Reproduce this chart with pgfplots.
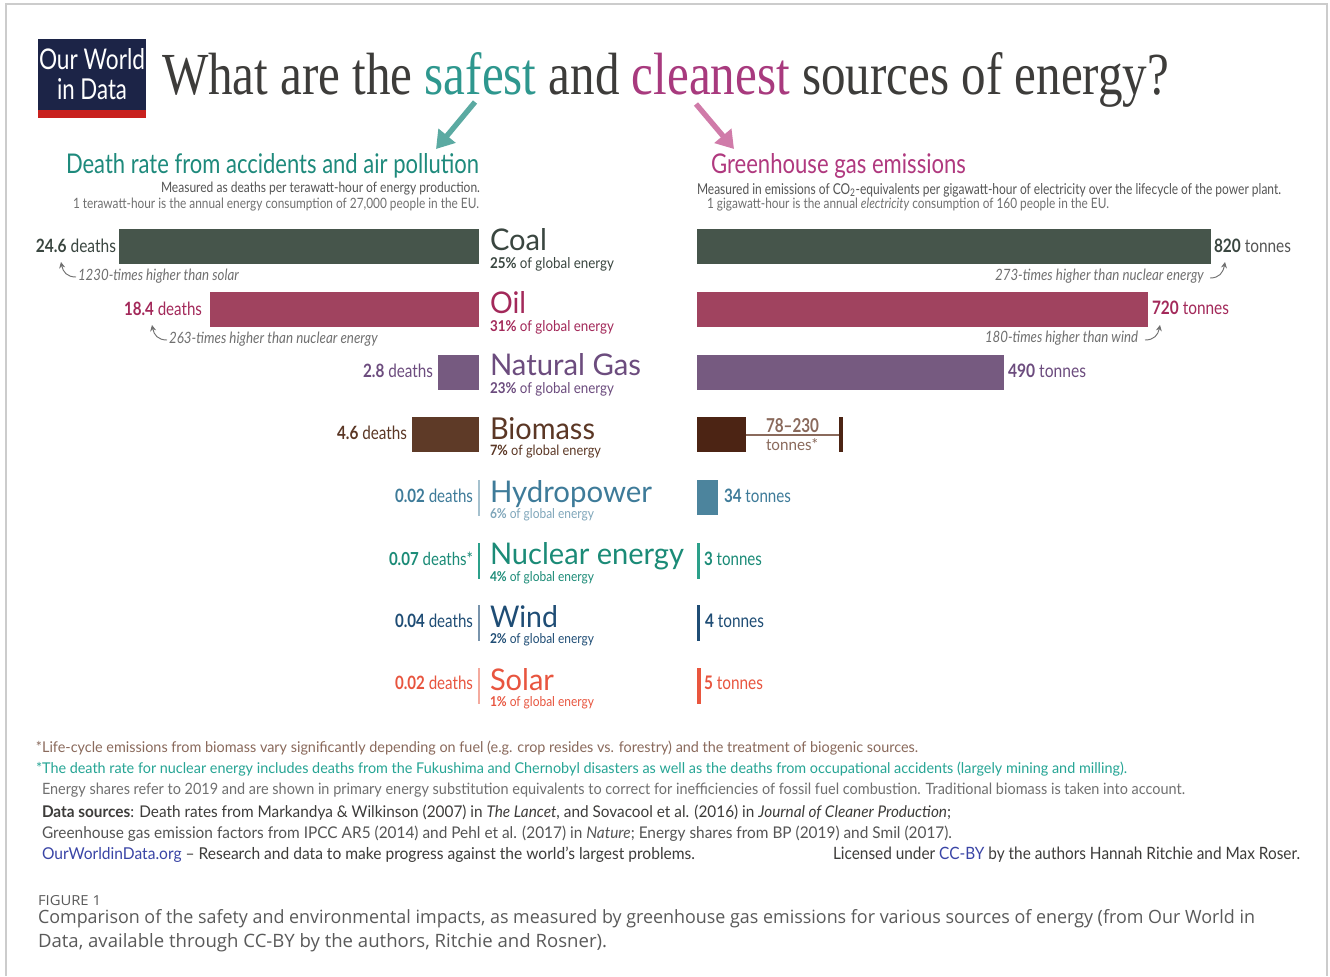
\documentclass[border=0pt]{standalone}
\usepackage{pgfplots}
\pgfplotsset{compat=1.18}
\usetikzlibrary{arrows.meta}
\usepackage{graphicx}
\usepackage{fontspec}
\setmainfont{Lato}
\newfontfamily\serif{Liberation Serif}
\newfontfamily\osans{Open Sans}
\newdimen\pxu \pxu=0.75pt
\newcommand\fit[3]{\resizebox{#1\pxu}{#2\pxu}{#3}}
\newcommand\T[5]{\node[anchor=base west,inner sep=0pt,outer sep=0pt] at (#1,#2) {\fit{#3}{#4}{#5}};}
\definecolor{ttl}{HTML}{3D3C3A}
\definecolor{safe}{HTML}{2E978E}
\definecolor{clean}{HTML}{A83A7E}
\definecolor{hdrL}{HTML}{1E8A7C}
\definecolor{hdrR}{HTML}{B0397F}
\definecolor{arrL}{HTML}{5BAAA2}
\definecolor{arrR}{HTML}{D07BA9}
\definecolor{navy}{HTML}{1C2447}
\definecolor{owred}{HTML}{C8211E}
\definecolor{coalb}{HTML}{46554B}
\definecolor{coalt}{HTML}{3A4640}
\definecolor{oilb}{HTML}{A0435F}
\definecolor{oilt}{HTML}{A3295A}
\definecolor{gasb}{HTML}{765A80}
\definecolor{gast}{HTML}{6C4C7E}
\definecolor{biob}{HTML}{5E3A27}
\definecolor{bior}{HTML}{4C2414}
\definecolor{biot}{HTML}{5B3725}
\definecolor{bioe}{HTML}{8A6A5C}
\definecolor{hydb}{HTML}{4C849D}
\definecolor{hydt}{HTML}{3E7B99}
\definecolor{hyds}{HTML}{7FA6BA}
\definecolor{nucb}{HTML}{2CA08A}
\definecolor{nuct}{HTML}{1B8B77}
\definecolor{nucf}{HTML}{26A595}
\definecolor{windb}{HTML}{1F4D75}
\definecolor{windt}{HTML}{1F4D75}
\definecolor{solb}{HTML}{E9563E}
\definecolor{solt}{HTML}{E8553F}
\definecolor{gry}{HTML}{555555}
\definecolor{lgry}{HTML}{707070}
\definecolor{capg}{HTML}{5A5A5A}
\definecolor{owid}{HTML}{3A45A6}
\definecolor{frame}{HTML}{CCCCCC}
\begin{document}
\begin{tikzpicture}
\useasboundingbox (0pt,0pt) rectangle (997.5pt,-732pt);
\fill[white] (0pt,0pt) rectangle (997.5pt,-732pt);
\begin{scope}[x=0.75pt,y=-0.75pt]
% frame
\draw[frame,line width=0.9pt] (6,976) -- (6,4) -- (1327,4) -- (1327,976);
% logo
\fill[navy] (38,39) rectangle (146,118);
\fill[owred] (38,110) rectangle (146,118);
\T{39}{69}{106}{21}{\color{white}Our World}
\T{57}{99}{70}{21}{\color{white}in Data}
% title
\T{162}{94}{1007}{42}{\serif\color{ttl}What are the \textcolor{safe}{safest} and \textcolor{clean}{cleanest} sources of energy?}
% arrows
\draw[arrL,line width=4pt,-{Triangle[length=13pt,width=16pt]}] (475,102) -- (436,149);
\draw[arrR,line width=4pt,-{Triangle[length=13pt,width=16pt]}] (696,104) -- (734,149);
% headers
\T{66}{173}{413}{20}{\color{hdrL}Death rate from accidents and air pollution}
\T{161}{192}{319}{10.5}{\color{gry}Measured as deaths per terawatt-hour of energy production.}
\T{73}{208}{406}{10.5}{\color{lgry}1 terawatt-hour is the annual energy consumption of 27,000 people in the EU.}
\T{711}{173}{255}{20}{\color{hdrR}Greenhouse gas emissions}
\T{697}{194}{584}{11}{\color{gry}Measured in emissions of CO\textsubscript{2}-equivalents per gigawatt-hour of electricity over the lifecycle of the power plant.}
\T{707}{208}{402}{10.5}{\color{lgry}1 gigawatt-hour is the annual \textit{electricity} consumption of 160 people in the EU.}
% category labels
\T{490}{250}{57}{22}{\color{coalt}Coal}
\T{490}{268}{124}{11}{\color{coalt}\textbf{25\%} of global energy}
\T{490}{313}{36}{22}{\color{oilt}Oil}
\T{490}{331}{124}{11}{\color{oilt}\textbf{31\%} of global energy}
\T{490}{375}{151}{22}{\color{gast}Natural Gas}
\T{490}{393}{124}{11}{\color{gast}\textbf{23\%} of global energy}
\T{490}{439}{105}{22}{\color{biot}Biomass}
\T{490}{455}{111}{10.5}{\color{biot}\textbf{7\%} of global energy}
\T{490}{502}{162}{22}{\color{hydt}Hydropower}
\T{490}{518}{104}{10}{\color{hyds}\textbf{6\%} of global energy}
\T{490}{564}{194}{22}{\color{nuct}Nuclear energy}
\T{490}{581}{104}{10}{\color{nuct}\textbf{4\%} of global energy}
\T{490}{627}{68}{22}{\color{windt}Wind}
\T{490}{643}{104}{10}{\color{windt}\textbf{2\%} of global energy}
\T{490}{690}{64}{22}{\color{solt}Solar}
\T{490}{706}{104}{10}{\color{solt}\textbf{1\%} of global energy}
% left value labels
\T{36}{252}{80}{13.5}{\color{coalt}\textbf{24.6} deaths}
\T{124}{315}{78}{13.5}{\color{oilt}\textbf{18.4} deaths}
\T{363}{377}{70}{13.5}{\color{gast}\textbf{2.8} deaths}
\T{337}{439}{70}{13.5}{\color{biot}\textbf{4.6} deaths}
\T{395}{502}{78}{13.5}{\color{hydt}\textbf{0.02} deaths}
\T{389}{565}{84}{13.5}{\color{nuct}\textbf{0.07} deaths*}
\T{395}{627}{78}{13.5}{\color{windt}\textbf{0.04} deaths}
\T{395}{689}{78}{13.5}{\color{solt}\textbf{0.02} deaths}
% right value labels
\T{1214}{252}{77}{13.5}{\color{coalt}\textbf{820} \color{gry}tonnes}
\T{1152}{314}{77}{13.5}{\color{oilt}\textbf{720} tonnes}
\T{1008}{377}{78}{13.5}{\color{gast}\textbf{490} tonnes}
\T{724}{502}{67}{13.5}{\color{hydt}\textbf{34} tonnes}
\T{704}{565}{58}{13.5}{\color{nuct}\textbf{3} tonnes}
\T{705}{627}{59}{13.5}{\color{windt}\textbf{4} tonnes}
\T{704}{689}{59}{13.5}{\color{solt}\textbf{5} tonnes}
\T{766}{432}{53}{14}{\color{bioe}\textbf{78--230}}
\T{766}{450}{52}{12}{\color{bioe}tonnes*}
% comparison notes
\T{78}{280}{161}{11.5}{\color{lgry}\textit{1230-times higher than solar}}
\T{169}{343}{209}{11.5}{\color{lgry}\textit{263-times higher than nuclear energy}}
\T{995}{280}{209}{11.5}{\color{lgry}\textit{273-times higher than nuclear energy}}
\T{985}{342}{153}{11.5}{\color{lgry}\textit{180-times higher than wind}}
\draw[lgry,line width=0.7pt,-{Stealth[length=4.5pt,width=4.5pt]}] (76,277) .. controls (67,277) and (63,272) .. (61,262);
\draw[lgry,line width=0.7pt,-{Stealth[length=4.5pt,width=4.5pt]}] (167,340) .. controls (158,340) and (154,335) .. (152,325);
\draw[lgry,line width=0.7pt,-{Stealth[length=4.5pt,width=4.5pt]}] (1210,278) .. controls (1219,278) and (1223,273) .. (1225,262);
\draw[lgry,line width=0.7pt,-{Stealth[length=4.5pt,width=4.5pt]}] (1145,340) .. controls (1154,340) and (1158,335) .. (1160,325);
% footer
\T{36}{752}{882}{11.5}{\color{bioe}*Life-cycle emissions from biomass vary significantly depending on fuel (e.g. crop resides vs. forestry) and the treatment of biogenic sources.}
\T{36}{773}{1091}{11.5}{\color{nucf}*The death rate for nuclear energy includes deaths from the Fukushima and Chernobyl disasters as well as the deaths from occupational accidents (largely mining and milling).}
\T{42}{794}{1143}{11.5}{\color{lgry}Energy shares refer to 2019 and are shown in primary energy substitution equivalents to correct for inefficiencies of fossil fuel combustion. Traditional biomass is taken into account.}
\T{42}{817}{909}{12.5}{\color{ttl}\textbf{Data sources}: Death rates from Markandya \& Wilkinson (2007) in \textit{The Lancet}, and Sovacool et al. (2016) in \textit{Journal of Cleaner Production};}
\T{42}{838}{910}{12.5}{\color{gry}Greenhouse gas emission factors from IPCC AR5 (2014) and Pehl et al. (2017) in \textit{Nature}; Energy shares from BP (2019) and Smil (2017).}
\T{42}{859}{653}{12.5}{\color{ttl}\textcolor{owid}{OurWorldinData.org} -- Research and data to make progress against the world's largest problems.}
\T{833}{859}{467}{12.5}{\color{ttl}Licensed under \textcolor{owid}{CC-BY} by the authors Hannah Ritchie and Max Roser.}
% caption
\T{38}{905}{63}{10}{\osans\color{capg}FIGURE 1}
\T{38}{923}{1217}{14}{\osans\color{capg}Comparison of the safety and environmental impacts, as measured by greenhouse gas emissions for various sources of energy (from Our World in}
\T{38}{947}{569}{14}{\osans\color{capg}Data, available through CC-BY by the authors, Ritchie and Rosner).}
\end{scope}
% ---------------- left axis: deaths per TWh
\begin{axis}[at={(89.25pt,-161.325pt)}, anchor=north west, scale only axis,
  width=270pt, height=376.8pt, xmin=0, xmax=24.6, ymin=-0.5, ymax=7.5,
  x dir=reverse, y dir=reverse, hide axis, clip=false]
\addplot[xbar, bar shift=0pt, bar width=26.25pt, fill=coalb, draw=none] coordinates {(24.6,0)};
\addplot[xbar, bar shift=0pt, bar width=26.25pt, fill=oilb, draw=none] coordinates {(18.4,1)};
\addplot[xbar, bar shift=0pt, bar width=26.25pt, fill=gasb, draw=none] coordinates {(2.8,2)};
\addplot[xbar, bar shift=0pt, bar width=26.25pt, fill=biob, draw=none] coordinates {(4.6,3)};
\addplot[xbar, bar shift=0pt, bar width=26.25pt, fill=hydb!50, draw=hydb!50, line width=0.6pt] coordinates {(0.02,4)};
\addplot[xbar, bar shift=0pt, bar width=26.25pt, fill=nucb, draw=nucb, line width=0.6pt] coordinates {(0.07,5)};
\addplot[xbar, bar shift=0pt, bar width=26.25pt, fill=windb!60, draw=windb!60, line width=0.6pt] coordinates {(0.04,6)};
\addplot[xbar, bar shift=0pt, bar width=26.25pt, fill=solb!50, draw=solb!50, line width=0.6pt] coordinates {(0.02,7)};
\end{axis}
% ---------------- right axis: greenhouse gas emissions
\begin{axis}[at={(522.75pt,-161.325pt)}, anchor=north west, scale only axis,
  width=385.5pt, height=376.8pt, xmin=0, xmax=820, ymin=-0.5, ymax=7.5,
  y dir=reverse, hide axis, clip=false]
\addplot[xbar, bar shift=0pt, bar width=26.25pt, fill=coalb, draw=none] coordinates {(820,0)};
\addplot[xbar, bar shift=0pt, bar width=26.25pt, fill=oilb, draw=none] coordinates {(720,1)};
\addplot[xbar, bar shift=0pt, bar width=26.25pt, fill=gasb, draw=none] coordinates {(490,2)};
\addplot[xbar, bar shift=0pt, bar width=26.25pt, fill=bior, draw=none,
  error bars/.cd, x dir=plus, x explicit,
  error bar style={color=bioe, line width=1pt},
  error mark=|, error mark options={color=bioe, mark size=2.5pt, line width=0.8pt}]
  coordinates {(78,3) +- (152,0)};
\addplot[only marks, mark=|, mark size=13.1pt, mark options={color=bior, line width=3pt}] coordinates {(230,3)};
\addplot[xbar, bar shift=0pt, bar width=26.25pt, fill=hydb, draw=none] coordinates {(34,4)};
\addplot[xbar, bar shift=0pt, bar width=26.25pt, fill=nucb, draw=nucb, line width=0.5pt] coordinates {(3,5)};
\addplot[xbar, bar shift=0pt, bar width=26.25pt, fill=windb, draw=windb, line width=0.5pt] coordinates {(4,6)};
\addplot[xbar, bar shift=0pt, bar width=26.25pt, fill=solb, draw=solb, line width=0.5pt] coordinates {(5,7)};
\end{axis}
\end{tikzpicture}
\end{document}
